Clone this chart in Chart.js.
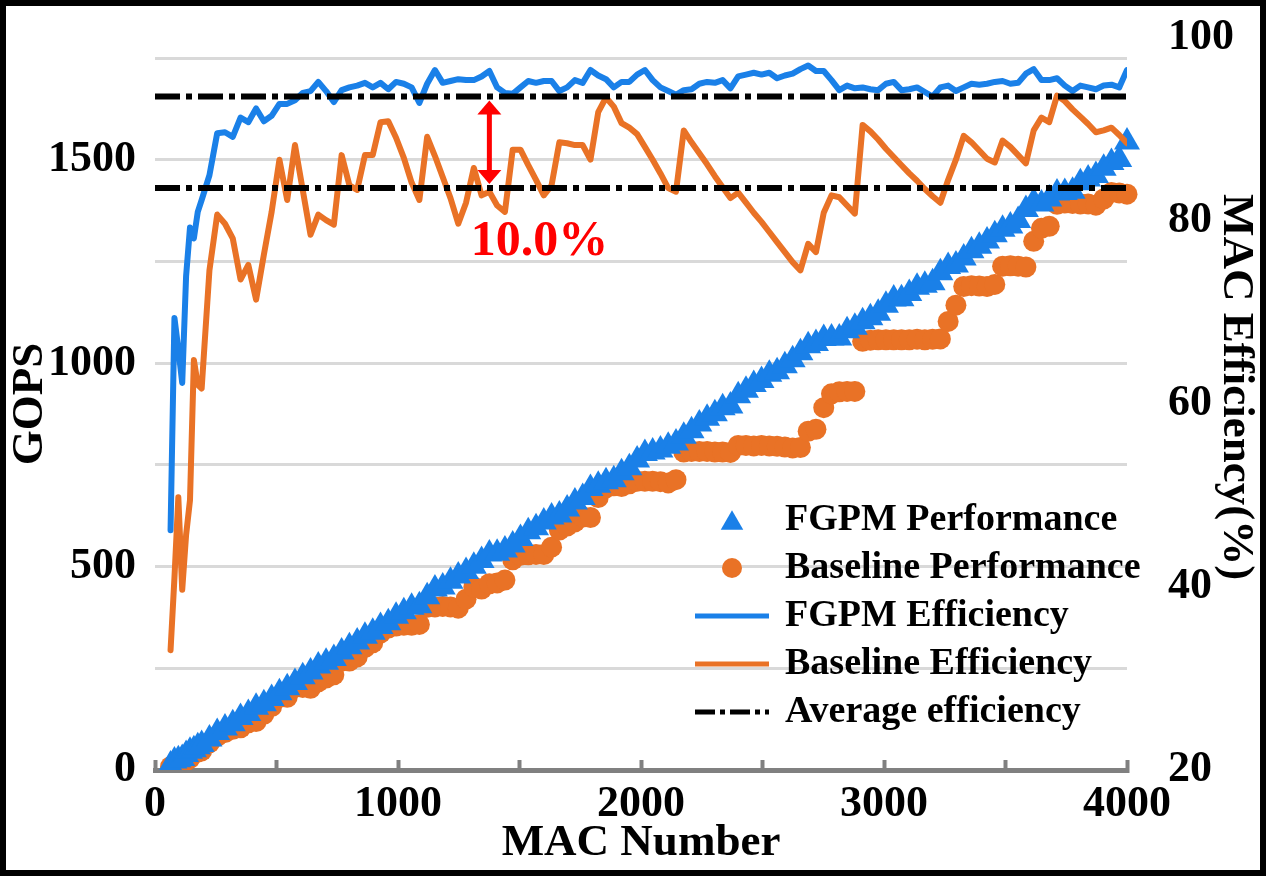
<!DOCTYPE html>
<html>
<head>
<meta charset="utf-8">
<title>FGPM vs Baseline</title>
<script src="https://cdn.jsdelivr.net/npm/chart.js@4.4.1/dist/chart.umd.min.js"></script>
<style>
  html, body { margin: 0; padding: 0; background: #fff; }
  .frame { width: 1266px; height: 876px; box-sizing: border-box; border: 6px solid #000; background: #fff; }
  canvas { display: block; }
</style>
</head>
<body>
<div class="frame"><canvas id="chart" width="1254" height="864"></canvas></div>
<script>
const macNumbers = [
  64, 80, 96, 112, 128, 144, 160, 176, 192,
  224, 256, 288, 320, 352, 384, 416, 448, 480, 512,
  544, 576, 608, 640, 672, 704, 736, 768, 800, 832,
  864, 896, 928, 960, 992, 1024, 1056, 1088, 1120, 1152,
  1184, 1216, 1248, 1280, 1312, 1344, 1376, 1408, 1440, 1472,
  1504, 1536, 1568, 1600, 1632, 1664, 1696, 1728, 1760, 1792,
  1824, 1856, 1888, 1920, 1952, 1984, 2016, 2048, 2080, 2112,
  2144, 2176, 2208, 2240, 2272, 2304, 2336, 2368, 2400, 2432,
  2464, 2496, 2528, 2560, 2592, 2624, 2656, 2688, 2720, 2752,
  2784, 2816, 2848, 2880, 2912, 2944, 2976, 3008, 3040, 3072,
  3104, 3136, 3168, 3200, 3232, 3264, 3296, 3328, 3360, 3392,
  3424, 3456, 3488, 3520, 3552, 3584, 3616, 3648, 3680, 3712,
  3744, 3776, 3808, 3840, 3872, 3904, 3936, 3968, 4000
];

// GOPS (left axis)
const fgpmPerformance = [
  12, 22, 25, 28, 38, 46, 50, 57, 63,
  76, 92, 103, 114, 129, 139, 154, 163, 176, 190,
  202, 215, 229, 241, 256, 265, 274, 290, 303, 315,
  329, 339, 353, 362, 378, 389, 400, 404, 426, 445,
  450, 464, 477, 488, 501, 515, 531, 533, 541, 553,
  569, 586, 596, 610, 622, 627, 642, 659, 670, 692,
  700, 709, 714, 731, 743, 762, 778, 782, 787, 796,
  804, 821, 834, 851, 865, 876, 891, 895, 920, 934,
  948, 958, 973, 979, 994, 1009, 1026, 1043, 1049, 1061,
  1062, 1062, 1080, 1089, 1102, 1112, 1123, 1143, 1158, 1159,
  1172, 1187, 1192, 1198, 1223, 1238, 1242, 1259, 1277, 1288,
  1301, 1316, 1330, 1338, 1351, 1378, 1397, 1392, 1404, 1419,
  1420, 1423, 1444, 1453, 1462, 1480, 1494, 1501, 1544
];

const baselinePerformance = [
  8, 13, 19, 18, 23, 29, 41, 44, 47,
  67, 83, 92, 100, 104, 116, 119, 137, 156, 178,
  179, 203, 203, 201, 217, 226, 234, 268, 268, 278,
  301, 313, 337, 349, 354, 356, 356, 358, 400, 401,
  402, 401, 398, 420, 450, 445, 458, 460, 467, 517,
  528, 529, 530, 530, 548, 590, 600, 610, 622, 621,
  670, 694, 699, 697, 704, 710, 710, 710, 709, 706,
  714, 782, 783, 783, 783, 782, 782, 781, 798, 798,
  797, 798, 797, 796, 794, 792, 793, 833, 838, 891,
  925, 930, 931, 931, 1054, 1057, 1058, 1058, 1058, 1058,
  1058, 1059, 1058, 1059, 1060, 1103, 1143, 1189, 1191, 1190,
  1189, 1194, 1239, 1240, 1239, 1237, 1300, 1332, 1337, 1391,
  1394, 1393, 1392, 1392, 1389, 1404, 1420, 1419, 1416
];

// MAC efficiency in % (right axis)
const fgpmEfficiency = [
  46.2, 69.4, 66.0, 62.3, 74.0, 79.3, 78.1, 81.0, 82.3,
  85.0, 89.6, 89.7, 89.2, 91.3, 90.8, 92.3, 90.9, 91.5, 92.8,
  92.8, 93.2, 94.0, 94.2, 95.2, 94.2, 93.0, 94.3, 94.6, 94.8,
  95.1, 94.6, 95.1, 94.4, 95.2, 95.0, 94.6, 92.9, 95.0, 96.5,
  95.1, 95.3, 95.5, 95.4, 95.4, 95.8, 96.4, 94.6, 94.0, 93.9,
  94.6, 95.3, 95.1, 95.3, 95.3, 94.2, 94.6, 95.4, 95.1, 96.5,
  95.9, 95.5, 94.6, 95.2, 95.2, 96.0, 96.5, 95.4, 94.6, 94.2,
  93.8, 94.3, 94.4, 95.0, 95.2, 95.1, 95.4, 94.5, 95.8, 96.0,
  96.2, 96.0, 96.2, 95.6, 95.9, 96.1, 96.6, 97.0, 96.4, 96.4,
  95.4, 94.3, 94.8, 94.5, 94.6, 94.4, 94.3, 95.0, 95.2, 94.3,
  94.4, 94.6, 94.1, 93.6, 94.6, 94.8, 94.2, 94.6, 95.0, 94.9,
  95.0, 95.2, 95.3, 95.0, 95.1, 96.1, 96.6, 95.4, 95.4, 95.6,
  94.8, 94.2, 94.8, 94.6, 94.4, 94.8, 94.9, 94.6, 96.5
];

const baselineEfficiency = [
  33.1, 41.0, 49.8, 39.7, 45.7, 49.5, 64.8, 62.1, 61.7,
  74.6, 80.7, 79.7, 78.1, 73.6, 75.2, 71.4, 76.3, 81.0, 86.7,
  82.3, 88.3, 83.4, 78.5, 80.7, 80.1, 79.6, 87.2, 83.9, 83.4,
  87.2, 87.2, 90.8, 90.9, 89.1, 86.9, 84.2, 82.3, 89.2, 87.1,
  84.8, 82.5, 79.7, 82.0, 85.8, 82.8, 83.2, 81.7, 81.0, 87.8,
  87.8, 86.1, 84.5, 82.8, 83.9, 88.6, 88.5, 88.3, 88.3, 86.7,
  91.9, 93.5, 92.5, 90.7, 90.2, 89.5, 88.1, 86.7, 85.2, 83.6,
  83.2, 89.9, 88.6, 87.4, 86.2, 84.9, 83.7, 82.5, 83.1, 82.0,
  80.9, 79.9, 78.8, 77.7, 76.6, 75.5, 74.6, 77.5, 76.6, 80.9,
  82.8, 82.6, 81.7, 80.8, 90.5, 89.8, 88.9, 87.9, 87.0, 86.1,
  85.2, 84.4, 83.5, 82.7, 82.0, 84.5, 86.7, 89.3, 88.6, 87.7,
  86.8, 86.4, 88.8, 88.1, 87.2, 86.3, 89.9, 91.3, 90.8, 93.7,
  93.1, 92.2, 91.4, 90.6, 89.7, 89.9, 90.2, 89.4, 88.5
];

const fgpmAverage = 93.6;
const baselineAverage = 83.6;

// left axis grid every 250, labels every 500
const gopsGridTicks = [0, 250, 500, 750, 1000, 1250, 1500, 1750];

// where the gap arrow and its label sit (MAC number, efficiency %)
const arrowMac = 1376;
const gapLabelMac = 1582;
const gapLabelEff = 77.7;

const BLUE = '#1a80e8';
const ORANGE = '#e97226';
const RED = '#ff0000';
const AXIS_GREY = '#808080';
const GRID_GREY = '#d9d9d9';
const NONE = 'rgba(0,0,0,0)';
const FONT = "'Liberation Serif', 'Times New Roman', serif";

Chart.defaults.font.family = FONT;
Chart.defaults.font.weight = 'bold';
Chart.defaults.color = '#000';

const legendOrder = ['FGPM Performance', 'Baseline Performance', 'FGPM Efficiency', 'Baseline Efficiency', 'Average efficiency'];

// draws the gap arrow, its label and the legend inside the plot
const overlayPlugin = {
  id: 'overlay',
  afterDraw(chart) {
    const ctx = chart.ctx;
    const xs = chart.scales.x;
    const ys = chart.scales.y1;
    ctx.save();

    const ax = xs.getPixelForValue(arrowMac);
    const aTop = ys.getPixelForValue(fgpmAverage) + 4;
    const aBot = ys.getPixelForValue(baselineAverage) - 4;
    ctx.fillStyle = RED;
    ctx.strokeStyle = RED;
    ctx.lineWidth = 5;
    ctx.beginPath();
    ctx.moveTo(ax, aTop + 10);
    ctx.lineTo(ax, aBot - 10);
    ctx.stroke();
    ctx.beginPath();
    ctx.moveTo(ax, aTop);
    ctx.lineTo(ax - 12, aTop + 14);
    ctx.lineTo(ax + 12, aTop + 14);
    ctx.closePath();
    ctx.fill();
    ctx.beginPath();
    ctx.moveTo(ax, aBot);
    ctx.lineTo(ax - 12, aBot - 14);
    ctx.lineTo(ax + 12, aBot - 14);
    ctx.closePath();
    ctx.fill();

    ctx.font = 'bold 50px ' + FONT;
    ctx.textAlign = 'center';
    ctx.textBaseline = 'middle';
    ctx.fillText((fgpmAverage - baselineAverage).toFixed(1) + '%',
      xs.getPixelForValue(gapLabelMac), ys.getPixelForValue(gapLabelEff));

    // legend
    const lineX1 = 689, lineX2 = 763, markX = 726, textX = 779;
    let rowY = 514;
    ctx.font = 'bold 38px ' + FONT;
    ctx.textAlign = 'left';
    legendOrder.forEach(label => {
      const ds = chart.data.datasets.find(d => d.label === label);
      if (ds.showLine === false) {
        ctx.fillStyle = ds.pointBackgroundColor;
        ctx.beginPath();
        if (ds.pointStyle === 'triangle') {
          const r = 13;
          const cy = rowY + r / 4;
          ctx.moveTo(markX, cy - r);
          ctx.lineTo(markX + r * Math.sin(2 * Math.PI / 3), cy + r / 2);
          ctx.lineTo(markX - r * Math.sin(2 * Math.PI / 3), cy + r / 2);
          ctx.closePath();
        } else {
          ctx.arc(markX, rowY, 10, 0, Math.PI * 2);
        }
        ctx.fill();
      } else {
        ctx.strokeStyle = ds.borderColor;
        ctx.lineWidth = 5;
        ctx.setLineDash(ds.borderDash ? [20, 5, 5, 5] : []);
        ctx.beginPath();
        ctx.moveTo(lineX1, rowY);
        ctx.lineTo(lineX2, rowY);
        ctx.stroke();
        ctx.setLineDash([]);
      }
      ctx.fillStyle = '#000';
      ctx.fillText(label, textX, rowY);
      rowY += 48;
    });

    ctx.restore();
  }
};

const markerClip = { left: 20, top: 20, right: 20, bottom: 0 };

new Chart(document.getElementById('chart').getContext('2d'), {
  type: 'line',
  data: {
    labels: macNumbers,
    datasets: [
      {
        label: 'Average efficiency',
        data: [{ x: 0, y: fgpmAverage }, { x: 4000, y: fgpmAverage }],
        yAxisID: 'y1',
        borderColor: '#000',
        borderWidth: 6,
        borderDash: [25, 6, 6, 6],
        borderCapStyle: 'butt',
        pointRadius: 0,
      },
      {
        label: 'Average efficiency (baseline)',
        data: [{ x: 0, y: baselineAverage }, { x: 4000, y: baselineAverage }],
        yAxisID: 'y1',
        borderColor: '#000',
        borderWidth: 6,
        borderDash: [25, 6, 6, 6],
        borderCapStyle: 'butt',
        pointRadius: 0,
      },
      {
        label: 'Baseline Efficiency',
        data: baselineEfficiency,
        yAxisID: 'y1',
        borderColor: ORANGE,
        borderWidth: 6,
        borderJoinStyle: 'round',
        borderCapStyle: 'round',
        pointRadius: 0,
        tension: 0,
      },
      {
        label: 'FGPM Efficiency',
        data: fgpmEfficiency,
        yAxisID: 'y1',
        borderColor: BLUE,
        borderWidth: 6,
        borderJoinStyle: 'round',
        borderCapStyle: 'round',
        pointRadius: 0,
        tension: 0,
      },
      {
        label: 'FGPM Performance',
        data: fgpmPerformance,
        yAxisID: 'y',
        showLine: false,
        pointStyle: 'triangle',
        pointRadius: 15,
        pointBackgroundColor: BLUE,
        pointBorderWidth: 0,
        borderColor: BLUE,
        clip: markerClip,
      },
      {
        label: 'Baseline Performance',
        data: baselinePerformance,
        yAxisID: 'y',
        showLine: false,
        pointStyle: 'circle',
        pointRadius: 10.5,
        pointBackgroundColor: ORANGE,
        pointBorderWidth: 0,
        borderColor: ORANGE,
        clip: markerClip,
      },
    ],
  },
  options: {
    responsive: false,
    animation: false,
    devicePixelRatio: 1,
    events: [],
    layout: { padding: { top: 32, left: 0, right: 0, bottom: 0 } },
    plugins: {
      legend: { display: false },
      tooltip: { enabled: false },
    },
    scales: {
      x: {
        type: 'linear',
        position: 'bottom',
        min: 0,
        max: 4000,
        ticks: {
          stepSize: 500,
          autoSkip: false,
          maxRotation: 0,
          padding: 18,
          font: { size: 44 },
          callback: v => (v % 1000 === 0 ? v : ''),
        },
        grid: {
          drawOnChartArea: false,
          drawTicks: true,
          tickLength: -10,
          tickWidth: 4,
          tickColor: AXIS_GREY,
        },
        border: { display: true, color: AXIS_GREY, width: 5 },
        title: {
          display: true,
          text: 'MAC Number',
          font: { size: 45, lineHeight: 1.1 },
          padding: { top: 0, bottom: 2 },
        },
        afterFit: s => { s.height = 100; },
      },
      y: {
        position: 'left',
        min: 0,
        max: 1800,
        afterBuildTicks: s => { s.ticks = gopsGridTicks.map(v => ({ value: v })); },
        ticks: {
          autoSkip: false,
          padding: 4,
          font: { size: 44 },
          callback: v => (v % 500 === 0 ? v : ''),
        },
        grid: {
          color: GRID_GREY,
          lineWidth: 3,
          drawTicks: true,
          tickLength: 15,
          tickColor: NONE,
        },
        border: { display: false },
        title: {
          display: true,
          text: 'GOPS',
          font: { size: 45, lineHeight: 1.1 },
          padding: 0,
        },
        afterFit: s => { s.width = 149; },
      },
      y1: {
        position: 'right',
        min: 20,
        max: 100,
        ticks: { stepSize: 20, autoSkip: false, padding: 4, font: { size: 44 } },
        grid: { drawOnChartArea: false, drawTicks: true, tickLength: 37, tickColor: NONE },
        border: { display: false },
        title: {
          display: true,
          text: 'MAC Efficiency(%)   ',
          font: { size: 45, lineHeight: 1.1 },
          padding: 0,
        },
        afterFit: s => { s.width = 133; },
      },
    },
  },
  plugins: [overlayPlugin],
});
</script>
</body>
</html>
